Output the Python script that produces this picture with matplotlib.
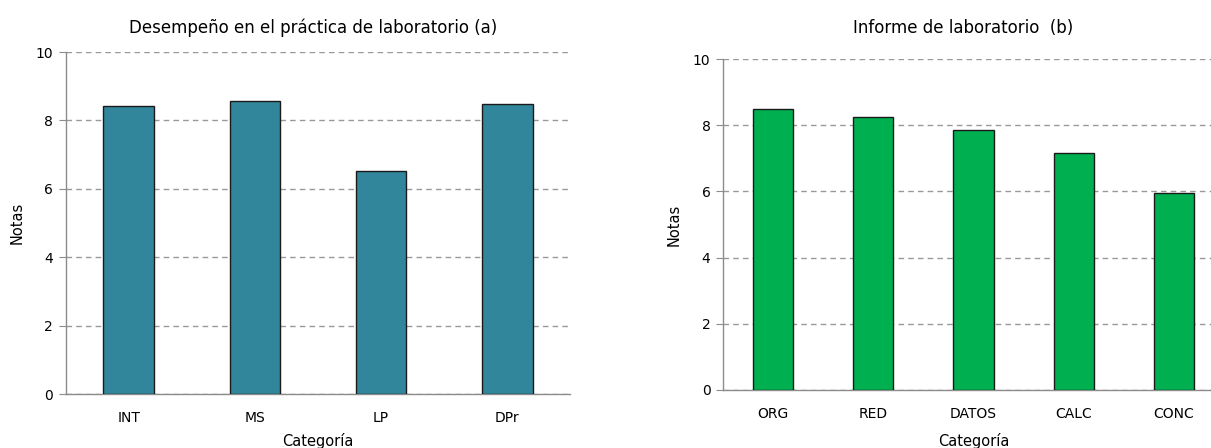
import matplotlib
matplotlib.use('Agg')
import matplotlib.pyplot as plt
import numpy as np

# datos
cat_a = ['INT', 'MS', 'LP', 'DPr']
notas_a = [8.43, 8.57, 6.52, 8.49]
cat_b = ['ORG', 'RED', 'DATOS', 'CALC', 'CONC']
notas_b = [8.48, 8.24, 7.85, 7.17, 5.95]

plt.rcParams['font.family'] = ['DejaVu Sans']
plt.rcParams['font.size'] = 10

fig = plt.figure(figsize=(12.11, 4.48), dpi=100)
ax1 = fig.add_axes([0.0542, 0.1205, 0.4168, 0.7634])
ax2 = fig.add_axes([0.597, 0.1295, 0.4137, 0.7388])


def draw(ax, cats, vals, color, title, tx, tpad, xpad):
    x = np.arange(len(cats))
    ax.bar(x, vals, width=0.4, color=color, edgecolor='#1a1a1a', linewidth=1.0, zorder=3)
    ax.set_xlim(-0.5, len(cats) - 0.5)
    ax.set_ylim(0, 10)
    ax.set_yticks([0, 2, 4, 6, 8, 10])
    ax.set_xticks(x)
    ax.set_xticklabels(cats)
    ax.yaxis.grid(True, linestyle=(0, (4, 3)), color='#999999', linewidth=1.0, zorder=0)
    for s in ['top', 'right']:
        ax.spines[s].set_visible(False)
    for s in ['left', 'bottom']:
        ax.spines[s].set_color('#8c8c8c')
        ax.spines[s].set_linewidth(1.0)
    ax.tick_params(axis='x', length=0, pad=12)
    ax.tick_params(axis='y', length=5, color='#8c8c8c', pad=4)
    ax.set_xlabel('Categoría', fontsize=10.5, labelpad=xpad)
    ax.set_ylabel('Notas', fontsize=10.5, labelpad=8)
    ax.set_title(title, fontsize=12, x=tx, pad=tpad)


draw(ax1, cat_a, notas_a, '#31869B', 'Desempeño en el práctica de laboratorio (a)', 0.49, 14, 6)
draw(ax2, cat_b, notas_b, '#00B050', 'Informe de laboratorio  (b)', 0.479, 19, 9)

fig.savefig('out.png', dpi=100)
